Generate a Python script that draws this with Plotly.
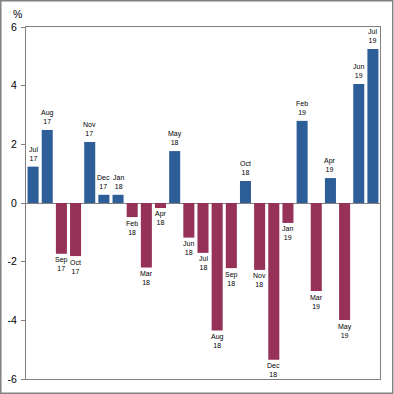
import plotly.graph_objects as go

months = ["Jul", "Aug", "Sep", "Oct", "Nov", "Dec", "Jan", "Feb", "Mar", "Apr", "May", "Jun",
          "Jul", "Aug", "Sep", "Oct", "Nov", "Dec", "Jan", "Feb", "Mar", "Apr", "May", "Jun", "Jul"]
years = ["17", "17", "17", "17", "17", "17", "18", "18", "18", "18", "18", "18",
         "18", "18", "18", "18", "18", "18", "19", "19", "19", "19", "19", "19", "19"]
values = [1.24, 2.49, -1.73, -1.81, 2.08, 0.28, 0.28, -0.48, -2.2, -0.17, 1.77, -1.18,
          -1.70, -4.35, -2.22, 0.75, -2.28, -5.34, -0.68, 2.80, -3.0, 0.85, -3.99, 4.06, 5.25]
tick_vals = [-6, -4, -2, 0, 2, 4, 6]
tick_text = ["-6", "-4", "-2", "0", "2", "4", "6"]

POS = "#2E5E98"
NEG = "#963158"
GREY = "#808080"
FONT = "Liberation Sans, Arial"

cats = [f"{m} {y}" for m, y in zip(months, years)]
labels = [f"{m}<br>{y}" for m, y in zip(months, years)]
colors = [POS if v >= 0 else NEG for v in values]

fig = go.Figure(go.Bar(
    x=cats, y=values, marker=dict(color=colors, line=dict(width=0)),
    hoverinfo="skip",
))

annotations = []
for c, lab, v in zip(cats, labels, values):
    annotations.append(dict(
        x=c, y=v, xref="x", yref="y", text=lab, showarrow=False,
        xanchor="center", yanchor="bottom" if v >= 0 else "top",
        yshift=4 if v >= 0 else -1.5, borderpad=0,
        font=dict(family=FONT, size=7, color="#000000"),
    ))

W, H = 394, 394
ml, mr, mt, mb = 26, 13.5, 27, 15
pw, ph = W - ml - mr, H - mt - mb

annotations.append(dict(text="%", xref="paper", yref="paper",
                        x=(17 - ml) / pw, y=(H - 13.5 - mb) / ph,
                        showarrow=False, font=dict(family=FONT, size=10.5),
                        xanchor="center", yanchor="middle"))

fig.update_layout(
    width=W, height=H,
    margin=dict(l=ml, r=mr, t=mt, b=mb, pad=0, autoexpand=False),
    paper_bgcolor="white", plot_bgcolor="white",
    bargap=0.22, showlegend=False,
    font=dict(family=FONT, size=10.5, color="#000000"),
    xaxis=dict(showticklabels=False, ticks="", showgrid=False, zeroline=False,
               showline=True, linecolor=GREY, linewidth=1, mirror=True, automargin=False,
               range=[-0.5, len(values) - 0.5]),
    yaxis=dict(range=[-6, 6], tickvals=tick_vals, ticktext=tick_text,
               ticks="outside", ticklen=4, tickcolor=GREY, showgrid=False,
               zeroline=True, zerolinecolor=GREY, zerolinewidth=1,
               showline=True, linecolor=GREY, linewidth=1, mirror=True, automargin=False,
               tickfont=dict(size=10.5), ticklabelstandoff=2),
    annotations=annotations,
    shapes=[dict(type="rect", xref="paper", yref="paper",
                 x0=(0.75 - ml) / pw, x1=(W - 0.75 - ml) / pw,
                 y0=(0.75 - mb) / ph, y1=(H - 0.75 - mb) / ph,
                 line=dict(color=GREY, width=1.5))],
)

fig.write_html("out.html", config={"displayModeBar": False, "staticPlot": True},
               post_script="document.body.style.margin='0px';document.body.style.overflow='hidden';")
